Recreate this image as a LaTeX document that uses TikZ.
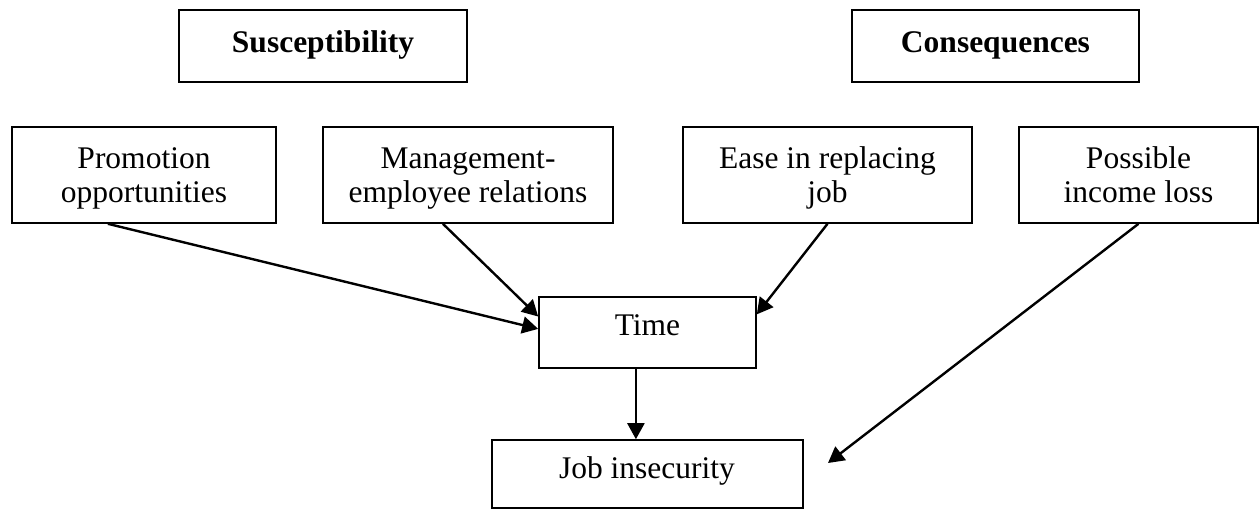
\documentclass[tikz,border=0pt]{standalone}
\usepackage{fontspec}
\setmainfont{Liberation Serif}
\usetikzlibrary{arrows.meta,calc}
\tikzset{
  box/.style={draw, line width=0.8pt, inner sep=0pt, minimum height=#1},
  box/.default=48pt,
  txt/.style={inner sep=0pt, align=center, font=\fontsize{15.75}{17}\selectfont},
  arr/.style={line width=1.2pt, -{Triangle[length=8pt,width=8.5pt]}}
}
\begin{document}
\begin{tikzpicture}[x=0.5pt,y=-0.5pt]
\useasboundingbox (0,0) rectangle (1260,510);
% header boxes
\node[box=36pt, minimum width=144pt] (sus) at (323,46) {};
\node[box=36pt, minimum width=143.5pt] (con) at (995.5,46) {};
\node[txt, anchor=base, font=\fontsize{15.75}{17}\selectfont\bfseries] (sust) at (323,52) {Susceptibility};
\node[txt, anchor=base, font=\fontsize{15.75}{17}\selectfont\bfseries] (cont) at (995.5,52) {Consequences};
% factor boxes
\node[box, minimum width=132pt] (pro) at (144,175) {};
\node[box, minimum width=145pt] (man) at (468,175) {};
\node[box, minimum width=144.5pt] (eas) at (827.5,175) {};
\node[box, minimum width=119.5pt] (pos) at (1138.5,175) {};
\node[txt, anchor=north] (prot) at (144,144.2) {\strut Promotion\\opportunities};
\node[txt, anchor=north] (mant) at (468,144.2) {\strut Management-\\employee relations};
\node[txt, anchor=north] (east) at (827.5,144.2) {\strut Ease in replacing\\job};
\node[txt, anchor=north] (post) at (1138.5,144.2) {\strut Possible\\income loss};
% time and job insecurity
\node[box=35.5pt, minimum width=108.5pt] (tim) at (647.5,332.5) {};
\node[box=34pt, minimum width=155.5pt] (job) at (647.5,474) {};
\node[txt, anchor=base] (timt) at (647.5,335) {Time};
\node[txt, anchor=base] (jobt) at (647,478) {Job insecurity};
% connectors
\coordinate (pend) at (828,463);
\draw[arr] ($(pro.south west)!0.364!(pro.south east)$) -- ($(tim.north west)!0.45!(tim.south west)$);
\draw[arr] ($(man.south west)!0.414!(man.south east)$) -- ($(tim.north west)!0.28!(tim.south west)$);
\draw[arr] (eas.south) -- ($(tim.north east)!0.25!(tim.south east)$);
\draw[arr] (pos.south) -- (pend);
\coordinate (tj) at ($(tim.south west)!0.447!(tim.south east)$);
\draw[arr] (tj) -- (tj |- job.north);
\end{tikzpicture}
\end{document}
